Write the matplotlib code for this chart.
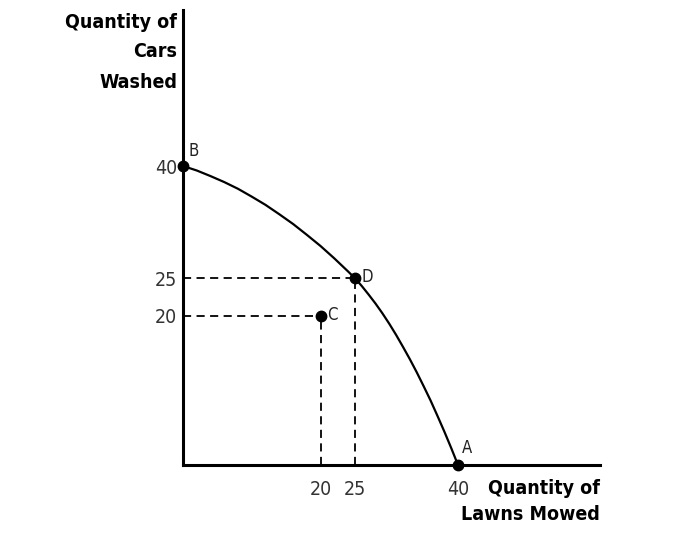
import matplotlib
matplotlib.use("Agg")
import matplotlib.pyplot as plt

# production possibilities frontier
ppf_lawns = [0, 2, 4, 6, 8, 10, 12, 14, 16, 18, 20, 22, 24, 25,
             26, 27, 28, 29, 30, 31, 32, 33, 34, 35, 36, 37, 38, 39, 40]
ppf_cars = [40, 39.4, 38.65, 37.85, 36.95, 35.9, 34.8, 33.55, 32.25, 30.8, 29.3, 27.65, 25.9, 25,
            23.95, 22.8, 21.6, 20.3, 18.9, 17.4, 15.8, 14.15, 12.4, 10.55, 8.65, 6.6, 4.5, 2.3, 0]

point_names = ["A", "B", "C", "D"]
point_lawns = [40, 0, 20, 25]
point_cars = [0, 40, 20, 25]
label_offsets = [(3, 6), (4, 4), (5, 0), (5, 1)]

tick_vals = [20, 25, 40]
tick_labels = ["20", "25", "40"]

fam = "DejaVu Sans"
stretch = "condensed"

fig = plt.figure(figsize=(6.74, 5.5), dpi=100)
ax = fig.add_axes([183/674, 85/550, 417/674, 455/550])

ax.plot(ppf_lawns, ppf_cars, color="black", lw=1.6, zorder=3, solid_joinstyle="round")

# dashed guides from C and D to both axes
for name, x, y in zip(point_names, point_lawns, point_cars):
    if name in ("C", "D"):
        ax.plot([0, x], [y, y], color="black", lw=1.3, ls=(0, (4.5, 3)), zorder=2)
        ax.plot([x, x], [0, y], color="black", lw=1.3, ls=(0, (4.5, 3)), zorder=2)

ax.plot(point_lawns, point_cars, "o", color="black", ms=7.5, zorder=4, clip_on=False)
for name, x, y, off in zip(point_names, point_lawns, point_cars, label_offsets):
    ax.annotate(name, (x, y), xytext=off, textcoords="offset points",
                fontsize=12, family=fam, stretch=stretch, ha="left",
                va="bottom" if name in "AB" else "center", color="#222222")

ax.set_xlim(0, 417/6.875)
ax.set_ylim(0, 455/7.475)
for s in ["top", "right"]:
    ax.spines[s].set_visible(False)
for s in ["left", "bottom"]:
    ax.spines[s].set_linewidth(2.2)

ax.set_xticks(tick_vals)
ax.set_xticklabels(tick_labels)
ax.set_yticks(tick_vals)
ax.set_yticklabels(tick_labels)
ax.tick_params(axis="both", length=0, labelsize=14, colors="#333333")
ax.tick_params(axis="x", pad=11)
ax.tick_params(axis="y", pad=4)
for lab in ax.get_xticklabels() + ax.get_yticklabels():
    lab.set_family(fam)
    lab.set_stretch(stretch)

ylab = ["Quantity of", "Cars", "Washed"]
for i, t in enumerate(ylab):
    fig.text(177/674, 1 - (22 + 30*i)/550, t, ha="right", va="center",
             fontsize=14, fontweight="bold", family=fam, stretch=stretch)
xlab = ["Quantity of", "Lawns Mowed"]
for i, t in enumerate(xlab):
    fig.text(600/674, 1 - (489 + 25*i)/550, t, ha="right", va="center",
             fontsize=14, fontweight="bold", family=fam, stretch=stretch)

fig.savefig("out.png", dpi=100)
